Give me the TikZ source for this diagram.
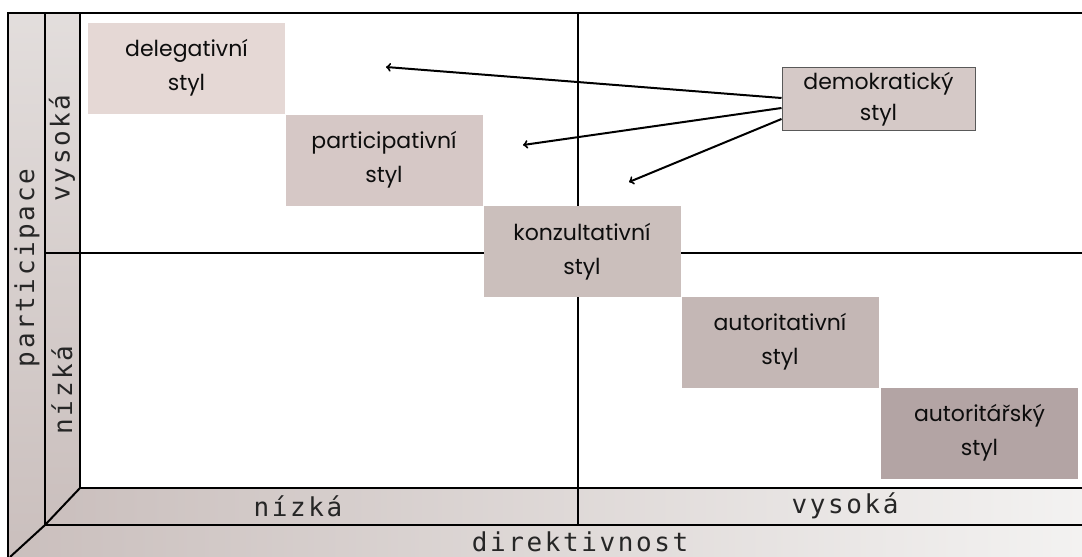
\documentclass[tikz,border=0pt]{standalone}
\usepackage{fontspec}
\setmainfont{Poppins}
\newfontfamily\axisfont[LetterSpace=10]{DejaVu Sans Mono}
\usetikzlibrary{arrows}

\definecolor{cDel}{HTML}{E5D8D5}
\definecolor{cPar}{HTML}{D6C8C6}
\definecolor{cKon}{HTML}{CBBFBC}
\definecolor{cAut}{HTML}{C4B7B5}
\definecolor{cAtr}{HTML}{B3A4A4}
\definecolor{cDem}{HTML}{D5C9C7}
\definecolor{bandDark}{HTML}{CABFBD}
\definecolor{bandLight}{HTML}{F3F2F1}

\begin{document}
\begin{tikzpicture}[x=1pt,y=-1pt,
    box/.style={minimum width=197pt,minimum height=91pt,inner sep=0pt,align=center,
      text=black!95,font=\fontsize{22}{34}\selectfont},
    axis/.style={text=black!85,font=\axisfont\fontsize{26}{26}\selectfont},
    frame/.style={line width=2pt}]
        \useasboundingbox (0,0) rectangle (1082,557);

        % bands
        \shade[top color=bandLight!60!bandDark, bottom color=bandDark] (8,13) -- (45,13) -- (45,525) -- (8,557) -- cycle;
        \shade[left color=bandDark, right color=bandLight] (45,525) -- (1082,525) -- (1082,557) -- (8,557) -- cycle;
        \shade[top color=bandLight!60!bandDark, bottom color=bandDark] (45,13) -- (80,13) -- (80,488) -- (45,525) -- cycle;
        \shade[left color=bandDark, right color=bandLight] (80,488) -- (1082,488) -- (1082,525) -- (45,525) -- cycle;

        % frame
        \draw[frame] (1082,13) -- (8,13) -- (8,557);
        \draw[frame] (45,13) -- (45,525) -- (1082,525);
        \draw[frame] (80,13) -- (80,488) -- (1082,488);
        \draw[frame] (80,488) -- (45,525) -- (10,557);
        \draw[frame] (578,13) -- (578,525);
        \draw[frame] (45,253) -- (1082,253);

        % styles
        \node[box, fill=cDel] (del) at (186.5,68) {delegativní\\styl};
        \node[box, fill=cPar] (par) at (384,160) {participativní\\styl};
        \node[box, fill=cKon] (kon) at (582,251.5) {konzultativní\\styl};
        \node[box, fill=cAut] (aut) at (780,342) {autoritativní\\styl};
        \node[box, fill=cAtr] (atr) at (979.5,433) {autoritářský\\styl};
        \node[box, fill=cDem, draw=black!65, line width=1pt, minimum width=193pt,
          minimum height=63pt, font=\fontsize{22}{31}\selectfont] (dem) at (878.5,99) {demokratický\\styl};

        \coordinate (tDel) at (386,67);
        \coordinate (tPar) at (523,145);
        \coordinate (tKon) at (629,182);
        \draw[-to, line width=2pt] ([yshift=1pt]dem.west) -- (tDel);
        \draw[-to, line width=2pt] ([yshift=-9pt]dem.west) -- (tPar);
        \draw[-to, line width=2pt] ([yshift=-20pt]dem.west) -- (tKon);

        % axes
        \node[axis, rotate=90] (partic) at (27,268) {participace};
        \node[axis, rotate=90] (vysP) at (62,148) {vysoká};
        \node[axis, rotate=90] (nizP) at (62,390) {nízká};
        \node[axis] (nizD) at (298,506) {nízká};
        \node[axis] (vysD) at (845,506) {vysoká};
        \node[axis] (direkt) at (580,542) {direktivnost};
\end{tikzpicture}
\end{document}
